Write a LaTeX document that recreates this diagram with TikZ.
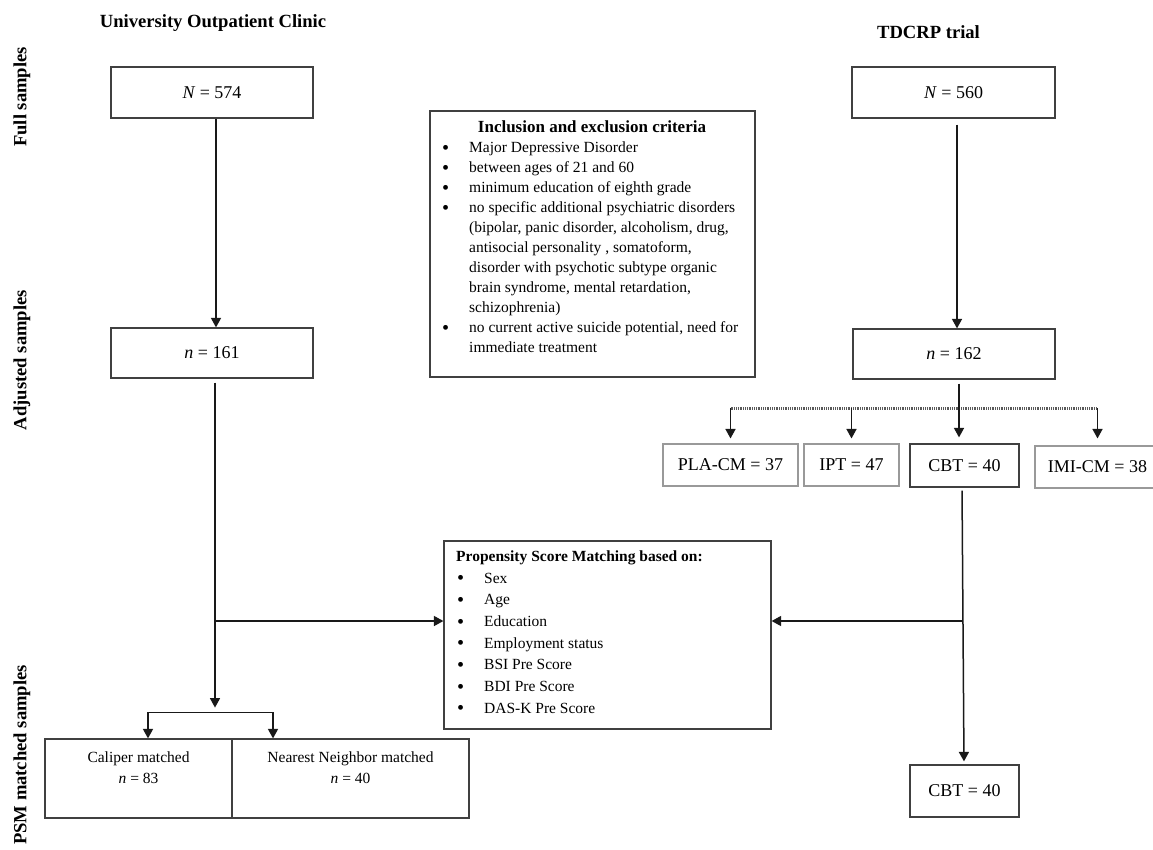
\documentclass[tikz,border=0pt]{standalone}
\usepackage{fontspec}
\setmainfont{Liberation Serif}
\usetikzlibrary{arrows.meta,calc}
\newcommand{\bul}{\raisebox{-1.8pt}{\scalebox{1.3}{\textbullet}}}
\tikzset{
 box/.style={draw=black!75, line width=1.2pt, inner sep=0pt, align=center, font=\fontsize{18}{21}\selectfont},
 gbox/.style={draw=black!40, line width=1.1pt, inner sep=0pt, align=center, font=\fontsize{18}{21}\selectfont},
 sbox/.style={draw=black!75, line width=1.2pt, inner sep=0pt, align=center, font=\fontsize{15.5}{21}\selectfont},
 head/.style={font=\fontsize{18.6}{22}\selectfont\bfseries, inner sep=0pt},
 side/.style={head, rotate=90},
 arr/.style={line width=1.5pt, draw=black!90, -{Triangle[length=9.5pt,width=10pt]}},
 ln/.style={line width=1.5pt, draw=black!90},
 dotl/.style={line width=2.2pt, draw=black!65, dash pattern=on 1pt off 0.8pt},
}
\begin{document}
\begin{tikzpicture}[x=1pt,y=-1pt]
\useasboundingbox (0,0) rectangle (1153,849);
\clip (0,0) rectangle (1153,849);

% headings
\node[head] (t1) at (213,23) {University Outpatient Clinic};
\node[head] (t2) at (928.5,32) {TDCRP trial};
\node[side] (s1) at (22,97) {Full samples};
\node[side] (s2) at (22,360) {Adjusted samples};
\node[side] (s3) at (22,755) {PSM matched samples};

% sample boxes
\node[box, minimum width=202pt, minimum height=51pt] (a574) at (212,92.5) {\textit{N} = 574};
\node[box, minimum width=202pt, minimum height=50pt] (a161) at (212,353) {\textit{n} = 161};
\node[box, minimum width=203pt, minimum height=51pt] (b560) at (953.5,92.5) {\textit{N} = 560};
\node[box, minimum width=202pt, minimum height=50pt] (b162) at (954,354) {\textit{n} = 162};

% criteria
\node[box, minimum width=325pt, minimum height=266pt] (crit) at (592.5,244) {};
\node[font=\fontsize{17}{20}\selectfont\bfseries, inner sep=0pt] (critT) at (592,127) {Inclusion and exclusion criteria};
\node[anchor=north west, inner sep=0pt, font=\fontsize{15.5}{20}\selectfont] (critL) at (442,138.5) {%
\begin{tabular}{@{}l@{}l@{}}
\makebox[27pt][l]{\bul} & Major Depressive Disorder\\
\makebox[27pt][l]{\bul} & between ages of 21 and 60\\
\makebox[27pt][l]{\bul} & minimum education of eighth grade\\
\makebox[27pt][l]{\bul} & no specific additional psychiatric disorders\\
 & (bipolar, panic disorder, alcoholism, drug,\\
 & antisocial personality , somatoform,\\
 & disorder with psychotic subtype organic\\
 & brain syndrome, mental retardation,\\
 & schizophrenia)\\
\makebox[27pt][l]{\bul} & no current active suicide potential, need for\\
 & immediate treatment
\end{tabular}};

% propensity
\node[box, minimum width=327pt, minimum height=188pt] (psm) at (607.5,635) {};
\node[anchor=north west, inner sep=0pt, font=\fontsize{15.5}{21.67}\selectfont] (psmL) at (456,546) {%
\begin{tabular}{@{}l@{}l@{}}
\multicolumn{2}{@{}l@{}}{\bfseries Propensity Score Matching based on:}\\
\makebox[28pt][l]{\hspace{1pt}\bul} & Sex\\
\makebox[28pt][l]{\hspace{1pt}\bul} & Age\\
\makebox[28pt][l]{\hspace{1pt}\bul} & Education\\
\makebox[28pt][l]{\hspace{1pt}\bul} & Employment status\\
\makebox[28pt][l]{\hspace{1pt}\bul} & BSI Pre Score\\
\makebox[28pt][l]{\hspace{1pt}\bul} & BDI Pre Score\\
\makebox[28pt][l]{\hspace{1pt}\bul} & DAS-K Pre Score
\end{tabular}};

% treatment boxes
\node[gbox, minimum width=135pt, minimum height=42pt] (pla) at (730.5,465) {PLA-CM = 37};
\node[gbox, minimum width=95pt, minimum height=42pt] (ipt) at (851.5,465) {IPT = 47};
\node[box, minimum width=109pt, minimum height=43pt] (cbt) at (964.5,465.5) {CBT = 40};
\node[gbox, minimum width=125pt, minimum height=42pt] (imi) at (1097.5,467) {IMI-CM = 38};
\node[box, minimum width=109pt, minimum height=52pt] (cbt2) at (964.5,791) {CBT = 40};

% matched boxes
\node[sbox, minimum width=187pt, minimum height=79pt] (cal) at (138.5,778.5) {Caliper matched\\ \textit{n} = 83\\ ~};
\node[sbox, minimum width=237pt, minimum height=79pt] (nn) at (350.5,778.5) {Nearest Neighbor matched\\ \textit{n} = 40\\ ~};

% left connectors
\draw[arr] ([xshift=4pt]a574.south) -- ([xshift=4pt]a161.north);
\coordinate (trL) at ([xshift=3pt]a161.south);
\coordinate (pin) at ([yshift=14pt]psm.west);
\coordinate (lsplit) at ($(trL)+(0,329)$);
\draw[arr, shorten <=4pt] (trL) -- (lsplit);
\draw[arr] (trL |- pin) -- (pin);
\coordinate (c1) at ($(cal.north)+(9.5,-26)$);
\coordinate (c2) at ($(nn.north)+(-77.5,-26)$);
\draw[ln] (c1) -- (c2);
\draw[arr] (c1) -- ([xshift=9.5pt]cal.north);
\draw[arr] (c2) -- ([xshift=-77.5pt]nn.north);

% right connectors
\draw[arr, shorten <=6pt] ([xshift=3.5pt]b560.south) -- ([xshift=3pt]b162.north);
\coordinate (dl) at ([yshift=35pt]pla.north);
\coordinate (dr) at ([yshift=37pt]imi.north);
\draw[dotl] (dl) -- (dr);
\draw[arr, shorten >=5pt] (dl) -- (pla.north);
\draw[arr, shorten >=5pt] (ipt.north |- dl) -- (ipt.north);
\draw[arr, shorten >=7pt] (dr) -- (imi.north);
\draw[arr, shorten <=4pt, shorten >=6pt] ([xshift=5pt]b162.south) -- ([xshift=-5.5pt]cbt.north);
\coordinate (trR) at ([xshift=-2.5pt]cbt.south);
\coordinate (pout) at ([yshift=14pt]psm.east);
\draw[arr, shorten <=3pt, shorten >=3pt] (trR) -- ([xshift=-0.5pt]cbt2.north);
\draw[arr] (trR |- pout) -- (pout);
\end{tikzpicture}
\end{document}
